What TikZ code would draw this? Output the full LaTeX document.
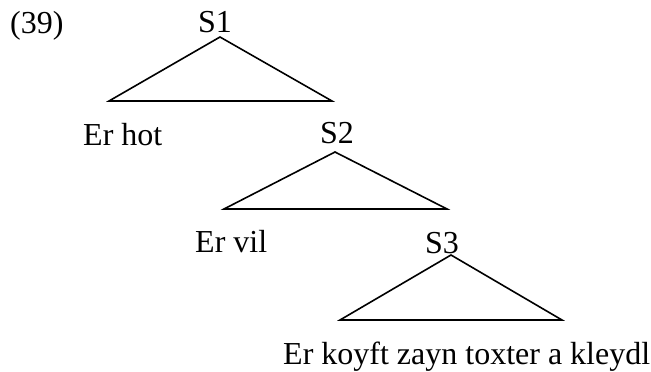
\documentclass[tikz,border=0pt]{standalone}
\usepackage{fontspec}
\setmainfont{Liberation Serif}
\begin{document}
\begin{tikzpicture}[x=1pt,y=-1pt,
  lbl/.style={inner sep=0pt,anchor=base west,font=\fontsize{32}{35}\selectfont},
  lblc/.style={inner sep=0pt,anchor=base,font=\fontsize{32}{35}\selectfont},
  tri/.style={draw=black,line width=1.6pt,line join=miter}]
\useasboundingbox (0,0) rectangle (651,372);
\node[lbl] (num) at (10,33) {(39)};
\node[lblc] (s1) at (215,32) {S1};
\node[lbl] (erhot) at (83,145) {Er hot};
\node[lblc] (s2) at (337,143) {S2};
\node[lbl] (ervil) at (195,252) {Er vil};
\node[lblc] (s3) at (442,253) {S3};
\node[lbl] (long) at (283,364) {Er koyft zayn toxter a kleydl};
\coordinate (a1) at (220,37); \coordinate (l1) at (109,101); \coordinate (r1) at (332,101);
\coordinate (a2) at (335,152); \coordinate (l2) at (224,209); \coordinate (r2) at (447,209);
\coordinate (a3) at (451,255); \coordinate (l3) at (340,320); \coordinate (r3) at (562,320);
\draw[tri] (a1) -- (l1) -- (r1) -- cycle;
\draw[tri] (a2) -- (l2) -- (r2) -- cycle;
\draw[tri] (a3) -- (l3) -- (r3) -- cycle;
\end{tikzpicture}
\end{document}
